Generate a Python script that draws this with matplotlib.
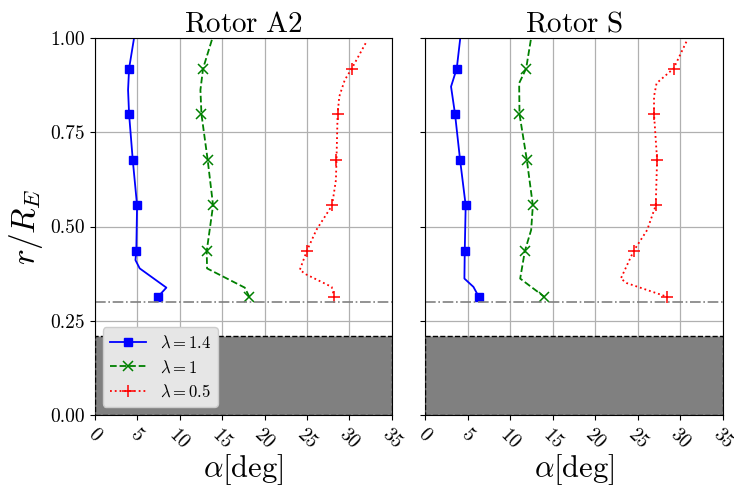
import numpy as np
import matplotlib
matplotlib.use("Agg")
from matplotlib import pyplot as plt

plt.rcParams['font.family'] = 'serif'
plt.rcParams['font.serif'] = ['cmr10']
plt.rcParams['mathtext.fontset'] = 'cm'
plt.rcParams['axes.formatter.use_mathtext'] = True

# radial stations (r/R_E) and angle of attack [deg]
# Rotor A2
r_a2_14 = [0.995, 0.919, 0.862, 0.798, 0.677, 0.556, 0.435, 0.411, 0.389, 0.338, 0.314]
a_a2_14 = [4.6, 4.05, 3.93, 4.05, 4.48, 4.99, 4.9, 4.8, 5.3, 8.44, 7.46]
mk_a2_14 = [1, 3, 4, 5, 6, 10]

r_a2_10 = [0.995, 0.919, 0.862, 0.798, 0.677, 0.556, 0.435, 0.389, 0.338, 0.314]
a_a2_10 = [13.8, 12.76, 12.45, 12.57, 13.3, 13.94, 13.19, 13.23, 17.67, 18.2]
mk_a2_10 = [1, 3, 4, 5, 6, 9]

r_a2_05 = [0.986, 0.919, 0.889, 0.845, 0.798, 0.677, 0.623, 0.556, 0.491, 0.435, 0.385, 0.373, 0.340, 0.314]
a_a2_05 = [31.9, 30.27, 29.45, 28.8, 28.6, 28.47, 28.4, 27.95, 26.1, 24.97, 24.15, 24.9, 27.9, 28.2]
mk_a2_05 = [1, 4, 5, 7, 9, 13]

# Rotor S
r_s_14 = [0.995, 0.919, 0.871, 0.798, 0.677, 0.556, 0.435, 0.362, 0.340, 0.314]
a_s_14 = [4.12, 3.73, 3.06, 3.53, 4.12, 4.78, 4.67, 4.63, 5.69, 6.31]
mk_s_14 = [1, 3, 4, 5, 6, 9]

r_s_10 = [0.995, 0.919, 0.880, 0.798, 0.677, 0.556, 0.491, 0.435, 0.362, 0.314]
a_s_10 = [12.43, 11.88, 11.06, 11.1, 11.96, 12.67, 12.47, 11.73, 11.18, 14.0]
mk_s_10 = [1, 3, 4, 5, 7, 9]

r_s_05 = [0.99, 0.919, 0.88, 0.845, 0.798, 0.677, 0.556, 0.491, 0.435, 0.362, 0.35, 0.314]
a_s_05 = [30.7, 29.2, 27.2, 26.9, 26.9, 27.26, 27.1, 26.1, 24.5, 23.0, 23.7, 28.4]
mk_s_05 = [1, 4, 5, 6, 8, 11]

labels = [r'$\lambda=1.4$', r'$\lambda=1$', r'$\lambda=0.5$']
titles = ['Rotor A2', 'Rotor S']
hub_r = 0.21
root_r = 0.30

data = [
    [(a_a2_14, r_a2_14, mk_a2_14), (a_a2_10, r_a2_10, mk_a2_10), (a_a2_05, r_a2_05, mk_a2_05)],
    [(a_s_14, r_s_14, mk_s_14), (a_s_10, r_s_10, mk_s_10), (a_s_05, r_s_05, mk_s_05)],
]
styles = [dict(color='b', ls='-', marker='s', ms=6),
          dict(color='g', ls='--', marker='x', ms=7.5, mew=1.1),
          dict(color='r', ls=':', marker='+', ms=8, mew=1.1)]

fig = plt.figure(figsize=(7.34, 4.93), dpi=100)
ax1 = fig.add_axes([0.129, 0.158, 0.405, 0.765])
ax2 = fig.add_axes([0.579, 0.158, 0.406, 0.765], sharey=ax1)

for ax, title, curves in zip([ax1, ax2], titles, data):
    for (a, r, mk), st, lab in zip(curves, styles, labels):
        ax.plot(a, r, markevery=mk, label=lab, lw=1.3, **st)
    ax.axhspan(0, hub_r, facecolor='#808080', edgecolor='k', ls='--', lw=1.0, zorder=3)
    ax.axhline(root_r, color='gray', ls='-.', lw=1.2)
    ax.set_xlim(0, 35)
    ax.set_ylim(0, 1)
    ax.set_xticks(np.arange(0, 36, 5))
    ax.set_yticks([0, 0.25, 0.5, 0.75, 1.0])
    ax.yaxis.set_major_formatter(matplotlib.ticker.FormatStrFormatter('%.2f'))
    ax.grid(True, color='#b0b0b0', lw=0.9)
    ax.set_axisbelow(True)
    ax.set_title(r'$\mathrm{' + title.replace(' ', r'\ ') + '}$', fontsize=21, pad=4)
    ax.set_xlabel(r'$\alpha[\mathrm{deg}]$', fontsize=22, labelpad=0)
    ax.tick_params(axis='x', labelrotation=-45, labelsize=14)
    ax.tick_params(axis='y', labelsize=14)

plt.setp(ax2.get_yticklabels(), visible=False)
ax1.set_ylabel(r'$r/R_E$', fontsize=24, labelpad=4)
leg = ax1.legend(loc='lower left', fontsize=12, facecolor='#e6e6e6', framealpha=1.0,
                 borderaxespad=0.5, handlelength=2.2)
leg.set_zorder(5)

fig.savefig('out.png', dpi=100)
